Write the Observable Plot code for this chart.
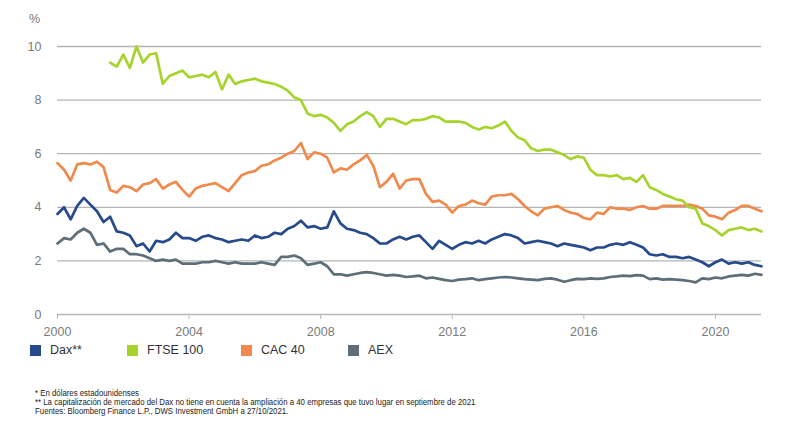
<!DOCTYPE html>
<html>
<head>
<meta charset="utf-8">
<script src="https://cdn.jsdelivr.net/npm/d3@7"></script>
<script src="https://cdn.jsdelivr.net/npm/@observablehq/plot@0.6"></script>
<style>
  html, body { margin: 0; padding: 0; background: #fff; }
  #wrap { position: relative; width: 790px; height: 437px; font-family: "Liberation Sans", Arial, sans-serif; }
  #pct { position: absolute; left: 29px; top: 12px; font-size: 12.5px; color: #777; }
  #chart { position: absolute; left: 0; top: 0; }
  .leg { position: absolute; top: 343px; font-size: 12.5px; color: #333; display: flex; align-items: center; }
  .leg span.sw { width: 11px; height: 11px; display: inline-block; margin-right: 9px; }
  #notes { position: absolute; left: 35px; top: 389px; font-family: "Liberation Sans", Arial, sans-serif; font-size: 8.5px; line-height: 9px; color: #222; transform: scaleX(0.92); transform-origin: left top; white-space: nowrap; }
</style>
</head>
<body>
<div id="wrap">
  <div id="chart"></div>
  <div id="pct">%</div>
  <div id="legend"></div>
  <div id="notes"></div>
</div>
<script>
// ---- data ----
const seriesNames = ["Dax**", "FTSE 100", "CAC 40", "AEX"];
const seriesColors = ["#274a8c", "#a6d42d", "#ef8a4c", "#5e6e78"];
const xTicks = [2000, 2004, 2008, 2012, 2016, 2020];
const yTicks = [0, 2, 4, 6, 8, 10];

const years = [
  2000.0, 2000.2, 2000.4, 2000.6, 2000.8,
  2001.0, 2001.2, 2001.4, 2001.6, 2001.8,
  2002.0, 2002.2, 2002.4, 2002.6, 2002.8,
  2003.0, 2003.2, 2003.4, 2003.6, 2003.8,
  2004.0, 2004.2, 2004.4, 2004.6, 2004.8,
  2005.0, 2005.2, 2005.4, 2005.6, 2005.8,
  2006.0, 2006.2, 2006.4, 2006.6, 2006.8,
  2007.0, 2007.2, 2007.4, 2007.6, 2007.8,
  2008.0, 2008.2, 2008.4, 2008.6, 2008.8,
  2009.0, 2009.2, 2009.4, 2009.6, 2009.8,
  2010.0, 2010.2, 2010.4, 2010.6, 2010.8,
  2011.0, 2011.2, 2011.4, 2011.6, 2011.8,
  2012.0, 2012.2, 2012.4, 2012.6, 2012.8,
  2013.0, 2013.2, 2013.4, 2013.6, 2013.8,
  2014.0, 2014.2, 2014.4, 2014.6, 2014.8,
  2015.0, 2015.2, 2015.4, 2015.6, 2015.8,
  2016.0, 2016.2, 2016.4, 2016.6, 2016.8,
  2017.0, 2017.2, 2017.4, 2017.6, 2017.8,
  2018.0, 2018.2, 2018.4, 2018.6, 2018.8,
  2019.0, 2019.2, 2019.4, 2019.6, 2019.8,
  2020.0, 2020.2, 2020.4, 2020.6, 2020.8,
  2021.0, 2021.2, 2021.4
];

const dax = [
  3.75, 4.0, 3.55, 4.05, 4.35,
  4.1, 3.85, 3.45, 3.65, 3.1,
  3.05, 2.95, 2.55, 2.65, 2.35,
  2.75, 2.7, 2.8, 3.05, 2.85,
  2.85, 2.75, 2.9, 2.95, 2.85,
  2.8, 2.7, 2.75, 2.8, 2.75,
  2.95, 2.85, 2.9, 3.05, 3.0,
  3.2, 3.3, 3.5, 3.25, 3.3,
  3.2, 3.25, 3.85, 3.4, 3.2,
  3.15, 3.05, 3.0, 2.85, 2.65,
  2.65, 2.8, 2.9, 2.8, 2.9,
  2.95, 2.7, 2.45, 2.75, 2.6,
  2.45, 2.6, 2.7, 2.65, 2.75,
  2.65, 2.8, 2.9, 3.0, 2.95,
  2.85, 2.65, 2.7, 2.75, 2.7,
  2.65, 2.55, 2.65, 2.6, 2.55,
  2.5, 2.4, 2.5, 2.5, 2.6,
  2.65, 2.6, 2.7, 2.6, 2.5,
  2.25, 2.2, 2.25, 2.15, 2.15,
  2.1, 2.15, 2.05, 1.95, 1.8,
  1.95, 2.05, 1.9, 1.95, 1.9,
  1.95, 1.85, 1.8
];

const ftse = [
  null, null, null, null, null,
  null, null, null, 9.4, 9.25,
  9.7, 9.2, 10.0, 9.4, 9.7,
  9.75, 8.6, 8.9, 9.0, 9.1,
  8.85, 8.9, 8.95, 8.85, 9.05,
  8.4, 8.95, 8.6, 8.7, 8.75,
  8.8, 8.7, 8.65, 8.6, 8.5,
  8.35, 8.1, 8.0, 7.5, 7.4,
  7.45, 7.35, 7.15, 6.85, 7.1,
  7.2, 7.4, 7.55, 7.4, 7.0,
  7.3, 7.3, 7.2, 7.1, 7.25,
  7.25, 7.3, 7.4, 7.35, 7.2,
  7.2, 7.2, 7.15, 7.0, 6.9,
  7.0, 6.95, 7.05, 7.2, 6.85,
  6.6, 6.5, 6.2, 6.1, 6.15,
  6.15, 6.05, 5.95, 5.8, 5.9,
  5.85, 5.4, 5.2, 5.2, 5.15,
  5.2, 5.05, 5.1, 4.95, 5.2,
  4.75, 4.65, 4.5, 4.4, 4.3,
  4.25, 4.0, 3.95, 3.4, 3.3,
  3.15, 2.95, 3.15, 3.2, 3.25,
  3.15, 3.2, 3.1
];

const cac = [
  5.65, 5.4, 5.0, 5.6, 5.65,
  5.6, 5.7, 5.5, 4.65, 4.55,
  4.8, 4.75, 4.6, 4.85, 4.9,
  5.05, 4.7, 4.85, 4.95, 4.65,
  4.4, 4.7, 4.8, 4.85, 4.9,
  4.75, 4.6, 4.9, 5.2, 5.3,
  5.35, 5.55, 5.6, 5.75, 5.85,
  6.0, 6.1, 6.4, 5.8, 6.05,
  6.0, 5.85, 5.3, 5.45, 5.4,
  5.6, 5.75, 5.95, 5.55, 4.75,
  4.95, 5.25, 4.7, 5.0, 5.05,
  5.05, 4.5, 4.2, 4.25, 4.1,
  3.8, 4.05, 4.1, 4.25, 4.15,
  4.1, 4.4, 4.45, 4.45, 4.5,
  4.3, 4.05, 3.85, 3.7, 3.95,
  4.0, 4.05, 3.9, 3.8, 3.75,
  3.6, 3.55, 3.8, 3.75, 4.0,
  3.95, 3.95, 3.9, 4.0, 4.05,
  3.95, 3.95, 4.05, 4.05, 4.05,
  4.05, 4.1, 4.05, 3.95, 3.7,
  3.65, 3.55, 3.8, 3.9, 4.05,
  4.05, 3.95, 3.85
];

const aex = [
  2.65, 2.85, 2.8, 3.05, 3.2,
  3.05, 2.6, 2.65, 2.35, 2.45,
  2.45, 2.25, 2.25, 2.2, 2.1,
  2.0, 2.05, 2.0, 2.05, 1.9,
  1.9, 1.9, 1.95, 1.95, 2.0,
  1.95, 1.9, 1.95, 1.9, 1.9,
  1.9, 1.95, 1.9, 1.85, 2.15,
  2.15, 2.2, 2.1, 1.85, 1.9,
  1.95, 1.8, 1.5, 1.5, 1.45,
  1.5, 1.55, 1.58, 1.55, 1.5,
  1.45, 1.48, 1.45, 1.4, 1.42,
  1.45, 1.35, 1.38, 1.33, 1.28,
  1.25, 1.3, 1.32, 1.35, 1.28,
  1.32, 1.35, 1.38, 1.4, 1.38,
  1.35, 1.32, 1.3, 1.28, 1.33,
  1.35, 1.3, 1.22, 1.28, 1.33,
  1.32, 1.35, 1.33, 1.35, 1.4,
  1.42, 1.45, 1.43, 1.47, 1.45,
  1.32, 1.35, 1.3, 1.32, 1.3,
  1.28, 1.25, 1.2, 1.35, 1.32,
  1.38, 1.35, 1.42, 1.45, 1.48,
  1.45, 1.52, 1.48
];

const footnotes = [
  "* En dólares estadounidenses",
  "** La capitalización de mercado del Dax no tiene en cuenta la ampliación a 40 empresas que tuvo lugar en septiembre de 2021",
  "Fuentes: Bloomberg Finance L.P., DWS Investment GmbH a 27/10/2021."
];

// ---- build table ----
const valuesBySeries = [dax, ftse, cac, aex];
const drawOrder = [3, 0, 2, 1]; // AEX, Dax, CAC, FTSE
const rows = [];
for (const s of drawOrder) {
  years.forEach((yr, i) => {
    const v = valuesBySeries[s][i];
    rows.push({ year: yr, value: v == null ? NaN : v, series: seriesNames[s] });
  });
}

const chart = Plot.plot({
  width: 790,
  height: 342,
  marginLeft: 57,
  marginRight: 29,
  marginTop: 46,
  marginBottom: 28,
  style: { fontFamily: "'Liberation Sans', Arial, sans-serif", fontSize: "12.5px", color: "#7a7a7a", background: "transparent" },
  x: { domain: [2000, 2021.4] },
  y: { domain: [0, 10] },
  color: { domain: seriesNames, range: seriesColors },
  marks: [
    Plot.ruleY(yTicks.filter(d => d > 0), { stroke: "#b4b4b4", strokeWidth: 1.3 }),
    Plot.ruleY([0], { stroke: "#b8b8b8", strokeWidth: 1.3 }),
    Plot.axisY({ ticks: yTicks, tickSize: 0, tickPadding: 16, label: null, tickFormat: d => String(d) }),
    Plot.axisX({ ticks: xTicks, tickSize: 5, tickPadding: 8, label: null, tickFormat: d => String(d), stroke: "#b8b8b8" }),
    Plot.line(rows, { x: "year", y: "value", z: "series", stroke: "series", strokeWidth: 2.7, strokeLinejoin: "round" })
  ]
});
document.getElementById("chart").appendChild(chart);

// legend
const legPos = [30, 127, 241, 348];
const legend = document.getElementById("legend");
seriesNames.forEach((name, i) => {
  const d = document.createElement("div");
  d.className = "leg";
  d.style.left = legPos[i] + "px";
  d.innerHTML = `<span class="sw" style="background:${seriesColors[i]}"></span>${name}`;
  legend.appendChild(d);
});

// footnotes
document.getElementById("notes").innerHTML = footnotes.map(t => `<div>${t}</div>`).join("");
</script>
</body>
</html>
